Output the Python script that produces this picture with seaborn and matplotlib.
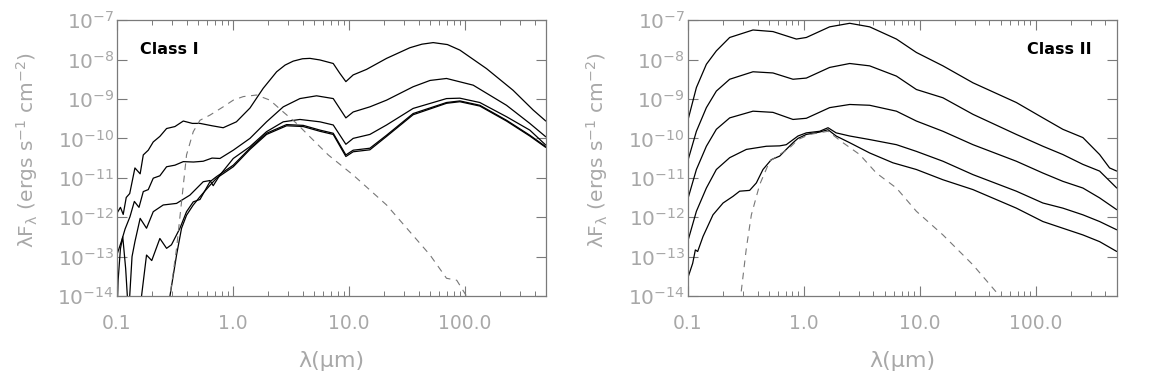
"""
Class I / Class II model SEDs - two log-log panels.
"""

import numpy as np
import pandas as pd
import matplotlib
matplotlib.use("Agg")
import matplotlib.pyplot as plt
import seaborn as sns
from matplotlib.ticker import FixedLocator, NullLocator, LogLocator, NullFormatter

# ---- data: log10(lambda / micron) and log10(lambda F_lambda) ----
# Class I
c1_a_lglam = [-1.0, -0.97, -0.946, -0.92, -0.89, -0.845, -0.80, -0.773, -0.73, -0.687,
              -0.63, -0.572, -0.50, -0.428, -0.35, -0.284, -0.18, -0.084, 0.03, 0.147,
              0.261, 0.377, 0.45, 0.52, 0.60, 0.664, 0.75, 0.865, 0.922, 0.974, 1.037, 1.152,
              1.325, 1.526, 1.63, 1.727, 1.85, 1.957, 2.187, 2.416, 2.589, 2.698]
c1_a_lgf = [-11.9, -11.75, -11.93, -11.5, -11.4, -10.75, -10.9, -10.42, -10.3, -10.09,
            -9.95, -9.75, -9.7, -9.56, -9.62, -9.62, -9.68, -9.73, -9.58, -9.23,
            -8.73, -8.31, -8.14, -8.04, -7.98, -7.97, -8.01, -8.10, -8.35, -8.56, -8.39, -8.25,
            -7.97, -7.70, -7.61, -7.57, -7.62, -7.76, -8.23, -8.78, -9.28, -9.56]

c1_b_lglam = [-1.0, -0.96, -0.93, -0.888, -0.85, -0.81, -0.773, -0.73, -0.687, -0.63,
              -0.572, -0.50, -0.428, -0.34, -0.256, -0.18, -0.112, 0.003, 0.147, 0.29,
              0.434, 0.578, 0.721, 0.865, 0.974, 1.037, 1.181, 1.325, 1.554, 1.70, 1.842,
              2.072, 2.359, 2.56, 2.698]
c1_b_lgf = [-12.95, -12.6, -12.3, -11.99, -11.6, -11.75, -11.35, -11.3, -11.01, -10.95,
            -10.72, -10.68, -10.59, -10.6, -10.58, -10.5, -10.51, -10.30, -10.0, -9.58,
            -9.20, -8.99, -8.92, -8.99, -9.48, -9.33, -9.20, -9.03, -8.69, -8.53, -8.48,
            -8.65, -9.16, -9.62, -9.96]

c1_c_lglam = [-1.0, -0.99, -0.97, -0.95, -0.925, -0.90, -0.87, -0.845, -0.80, -0.745,
              -0.687, -0.601, -0.486, -0.371, -0.256, -0.198, -0.17, -0.112, 0.003, 0.147,
              0.29, 0.434, 0.578, 0.75, 0.865, 0.974, 1.037, 1.181, 1.325, 1.554,
              1.842, 1.957, 2.129, 2.359, 2.56, 2.698]
c1_c_lgf = [-14.5, -13.6, -12.8, -12.5, -13.3, -14.5, -13.0, -12.62, -12.03, -12.28,
            -11.86, -11.69, -11.65, -11.44, -11.10, -11.07, -11.2, -10.93, -10.51, -10.21,
            -9.83, -9.58, -9.52, -9.58, -9.66, -10.15, -10.0, -9.90, -9.66, -9.24,
            -8.99, -8.98, -9.09, -9.45, -9.79, -10.17]

c1_d_lglam = [-0.80, -0.788, -0.745, -0.70, -0.63, -0.572, -0.53, -0.457, -0.40, -0.342,
              -0.284, -0.198, -0.141, 0.003, 0.147, 0.29, 0.463, 0.606, 0.75, 0.865,
              0.974, 1.037, 1.181, 1.325, 1.554, 1.842, 1.957, 2.129, 2.359, 2.56, 2.698]
c1_d_lgf = [-14.5, -14.0, -12.96, -13.1, -12.54, -12.79, -12.7, -12.28, -11.86, -11.61,
            -11.55, -11.10, -10.97, -10.68, -10.25, -9.87, -9.65, -9.67, -9.79, -9.87,
            -10.42, -10.30, -10.25, -9.92, -9.37, -9.09, -9.05, -9.16, -9.54, -9.92, -10.21]

c1_e_lglam = [-0.56, -0.543, -0.486, -0.443, -0.40, -0.342, -0.284, -0.198, -0.141, 0.003,
              0.147, 0.29, 0.463, 0.606, 0.75, 0.865, 0.974, 1.037, 1.181, 1.325,
              1.554, 1.842, 1.957, 2.129, 2.359, 2.56, 2.698]
c1_e_lgf = [-14.5, -14.0, -12.96, -12.28, -11.95, -11.69, -11.48, -11.19, -11.01, -10.72,
            -10.28, -9.90, -9.68, -9.70, -9.82, -9.90, -10.46, -10.34, -10.29, -9.95,
            -9.40, -9.11, -9.07, -9.18, -9.56, -9.94, -10.23]

c1_star_lglam = [-0.56, -0.543, -0.486, -0.443, -0.40, -0.342, -0.284, -0.198, -0.084, 0.003,
                 0.089, 0.204, 0.319, 0.434, 0.549, 0.664, 0.822, 1.037, 1.325, 1.526,
                 1.70, 1.842, 1.93, 2.014, 2.05]
c1_star_lgf = [-14.5, -14.0, -12.79, -11.61, -10.42, -9.83, -9.54, -9.41, -9.20, -9.03,
               -8.94, -8.90, -9.03, -9.33, -9.62, -9.96, -10.42, -10.93, -11.69, -12.37,
               -12.96, -13.55, -13.6, -14.0, -14.3]

# Class II
c2_a_lglam = [-1.0, -0.925, -0.839, -0.753, -0.638, -0.437, -0.265, -0.063, 0.023, 0.224,
              0.397, 0.569, 0.80, 0.972, 1.201, 1.46, 1.834, 2.063, 2.235, 2.408,
              2.552, 2.638, 2.70]
c2_a_lgf = [-9.56, -8.71, -8.12, -7.78, -7.44, -7.25, -7.29, -7.48, -7.44, -7.17,
            -7.08, -7.17, -7.48, -7.82, -8.16, -8.59, -9.09, -9.48, -9.77, -9.98,
            -10.41, -10.75, -10.83]

c2_b_lglam = [-1.0, -0.925, -0.839, -0.753, -0.638, -0.437, -0.265, -0.092, 0.023, 0.224,
              0.397, 0.569, 0.80, 0.972, 1.201, 1.46, 1.834, 2.063, 2.235, 2.408,
              2.552, 2.70]
c2_b_lgf = [-10.58, -9.82, -9.22, -8.80, -8.50, -8.31, -8.34, -8.50, -8.47, -8.20,
            -8.10, -8.16, -8.42, -8.76, -8.97, -9.39, -9.90, -10.20, -10.41, -10.66,
            -10.83, -11.26]

c2_c_lglam = [-1.0, -0.925, -0.839, -0.753, -0.638, -0.437, -0.265, -0.092, 0.023, 0.224,
              0.397, 0.569, 0.80, 0.972, 1.201, 1.46, 1.834, 2.063, 2.235, 2.408,
              2.552, 2.70]
c2_c_lgf = [-11.55, -10.79, -10.20, -9.77, -9.48, -9.31, -9.34, -9.52, -9.49, -9.22,
            -9.14, -9.16, -9.31, -9.56, -9.82, -10.16, -10.58, -10.88, -11.09, -11.26,
            -11.51, -11.81]

c2_d_lglam = [-1.0, -0.925, -0.839, -0.753, -0.638, -0.494, -0.322, -0.207, -0.15, -0.049,
              0.023, 0.138, 0.21, 0.28, 0.397, 0.569, 0.80, 0.972, 1.201, 1.46,
              1.834, 2.063, 2.235, 2.408, 2.552, 2.70]
c2_d_lgf = [-12.62, -11.85, -11.26, -10.79, -10.49, -10.28, -10.20, -10.19, -10.16, -9.94,
            -9.86, -9.82, -9.73, -9.86, -9.94, -10.03, -10.16, -10.33, -10.58, -10.92,
            -11.34, -11.64, -11.77, -11.94, -12.11, -12.32]

c2_e_lglam = [-1.0, -0.957, -0.934, -0.914, -0.868, -0.782, -0.695, -0.609, -0.552, -0.466,
              -0.408, -0.351, -0.279, -0.207, -0.15, -0.092, -0.049, 0.023, 0.138, 0.21,
              0.28, 0.397, 0.569, 0.77, 0.972, 1.201, 1.46, 1.834, 2.063, 2.235,
              2.408, 2.552, 2.70]
c2_e_lgf = [-13.55, -13.17, -12.83, -12.87, -12.49, -11.94, -11.64, -11.47, -11.34, -11.32,
            -11.13, -10.79, -10.54, -10.45, -10.28, -10.11, -10.0, -9.90, -9.84, -9.78,
            -9.94, -10.11, -10.37, -10.62, -10.79, -11.05, -11.30, -11.77, -12.11, -12.28,
            -12.45, -12.62, -12.87]

c2_star_lglam = [-0.56, -0.543, -0.494, -0.451, -0.379, -0.293, -0.207, -0.121, -0.049, 0.052,
                 0.21, 0.339, 0.483, 0.627, 0.80, 0.972, 1.201, 1.46, 1.69, 1.75]
c2_star_lgf = [-14.5, -14.0, -12.78, -11.94, -11.17, -10.58, -10.41, -10.24, -10.03, -9.90,
               -9.82, -10.11, -10.41, -10.88, -11.26, -11.85, -12.45, -13.21, -14.0, -14.3]

xtick_vals = [0.1, 1.0, 10.0, 100.0]
xtick_labels = ["0.1", "1.0", "10.0", "100.0"]
ytick_exps = [-14, -13, -12, -11, -10, -9, -8, -7]

panels = [
    ("Class I",
     [(c1_a_lglam, c1_a_lgf), (c1_b_lglam, c1_b_lgf), (c1_c_lglam, c1_c_lgf),
      (c1_d_lglam, c1_d_lgf), (c1_e_lglam, c1_e_lgf)],
     (c1_star_lglam, c1_star_lgf)),
    ("Class II",
     [(c2_a_lglam, c2_a_lgf), (c2_b_lglam, c2_b_lgf), (c2_c_lglam, c2_c_lgf),
      (c2_d_lglam, c2_d_lgf), (c2_e_lglam, c2_e_lgf)],
     (c2_star_lglam, c2_star_lgf)),
]

sns.set_theme(style="ticks")
plt.rcParams["font.family"] = ["DejaVu Sans"]
plt.rcParams["mathtext.default"] = "regular"
grey = "#a8a8a8"
spine_grey = "#7a7a7a"

fig = plt.figure(figsize=(11.5, 3.8), dpi=100)
ax_rects = [[0.1017, 0.221, 0.373, 0.726], [0.598, 0.221, 0.373, 0.726]]

for rect, (title, curves, star) in zip(ax_rects, panels):
    ax = fig.add_axes(rect)
    for lglam, lgf in curves:
        df = pd.DataFrame({"lam": 10 ** np.array(lglam), "flux": 10 ** np.array(lgf)})
        sns.lineplot(data=df, x="lam", y="flux", ax=ax, color="black", lw=0.9,
                     estimator=None, sort=False)
    df = pd.DataFrame({"lam": 10 ** np.array(star[0]), "flux": 10 ** np.array(star[1])})
    sns.lineplot(data=df, x="lam", y="flux", ax=ax, color="#777777", lw=0.8,
                 estimator=None, sort=False, linestyle=(0, (6, 5)))

    ax.set_xscale("log")
    ax.set_yscale("log")
    ax.set_xlim(0.1, 500)
    ax.set_ylim(1e-14, 1e-7)

    ax.xaxis.set_major_locator(FixedLocator(xtick_vals))
    ax.set_xticklabels(xtick_labels)
    ax.xaxis.set_minor_locator(LogLocator(base=10, subs=np.arange(2, 10)))
    ax.xaxis.set_minor_formatter(NullFormatter())
    ax.yaxis.set_major_locator(FixedLocator([10.0 ** e for e in ytick_exps]))
    ax.set_yticklabels([r"$10^{%d}$" % e for e in ytick_exps])
    ax.yaxis.set_minor_locator(NullLocator())

    ax.tick_params(which="both", direction="in", top=True, right=True,
                   color=spine_grey, labelcolor=grey)
    ax.tick_params(which="major", length=7, width=0.8)
    ax.tick_params(which="minor", length=3.5, width=0.7)
    ax.tick_params(axis="x", which="major", labelsize=13.5, pad=13)
    ax.tick_params(axis="y", which="major", labelsize=14.5, pad=2)
    for s in ax.spines.values():
        s.set_color(spine_grey)
        s.set_linewidth(0.9)

    ax.set_xlabel("λ(μm)", color=grey, fontsize=16)
    ax.xaxis.set_label_coords(0.5, -0.2)
    ax.set_ylabel("λF$_λ$ (ergs s$^{-1}$ cm$^{-2}$)", color=grey, fontsize=14.5)
    ax.yaxis.set_label_coords(-0.18, 0.53)

    if title == "Class I":
        ax.text(0.054, 0.895, title, transform=ax.transAxes, fontsize=11.5,
                fontweight="bold", color="black", ha="left", va="center")
    else:
        ax.text(0.942, 0.895, title, transform=ax.transAxes, fontsize=11.5,
                fontweight="bold", color="black", ha="right", va="center")

fig.savefig("out.png", dpi=100, facecolor="white")
